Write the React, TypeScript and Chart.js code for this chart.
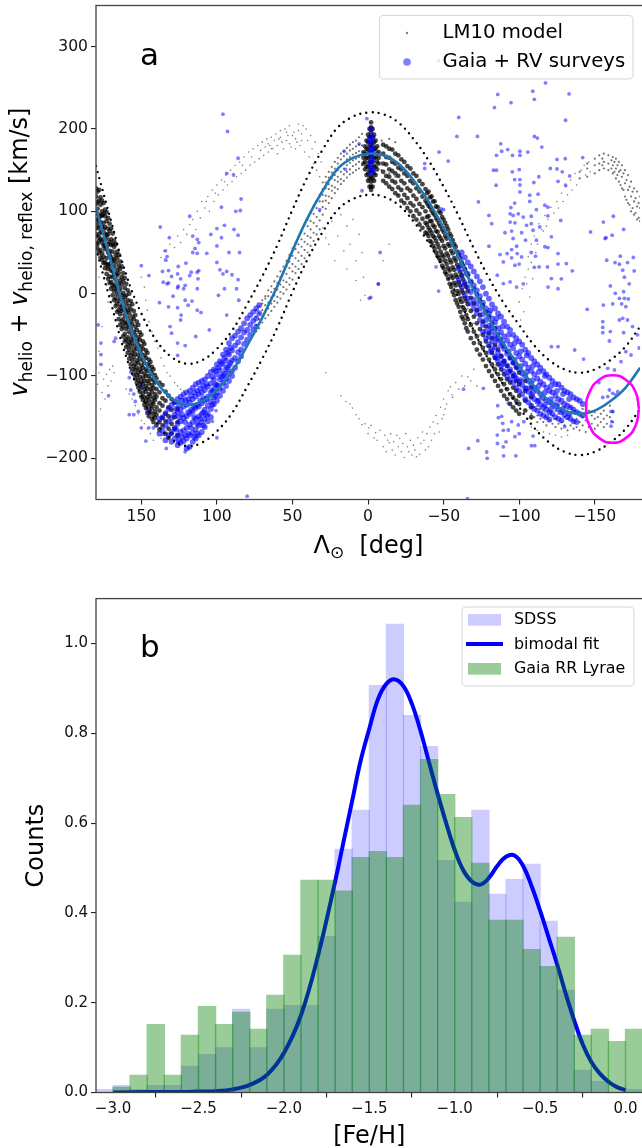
import React, { useEffect, useRef } from "react";
import { Chart, registerables } from "chart.js";

Chart.register(...registerables);

const FONT = "'DejaVu Sans'";

// ---- panel a: data (longitude, velocity) ----
const lonTicks = [150, 100, 50, 0, -50, -100, -150];
const velTicks = [-200, -100, 0, 100, 200, 300];

const fitLon = [180,170,160,150,140,130,120,110,100,90,80,70,60,50,40,30,20,10,0,-10,-20,-30,-40,-50,-60,-70,-80,-90,-100,-110,-120,-130,-140,-150,-160,-170,-180];
const fitVel = [105,38,-27,-74,-107,-127,-135,-131,-117,-95,-63,-29,9,52,92,125,152,165,170,168,158,138,112,80,44,5,-31,-62,-88,-113,-131,-142,-146,-142,-131,-115,-90];
const upperVel = [155,88,23,-24,-57,-77,-85,-81,-67,-45,-13,21,59,102,142,175,202,215,220,218,208,188,162,130,94,55,19,-12,-38,-63,-81,-92,-96,-92,-81,-65,-40];
const lowerVel = [55,-12,-77,-124,-157,-177,-185,-181,-167,-145,-113,-79,-41,2,42,75,102,115,120,118,108,88,62,30,-6,-45,-81,-112,-138,-163,-181,-192,-196,-192,-181,-165,-140];
const ringLon = [-179.3,-177,-170.5,-161.8,-153,-146.6,-144.3,-146.6,-153,-161.8,-170.5,-177,-179.3];
const ringVel = [-140,-119.5,-104.5,-99,-104.5,-119.5,-140,-160.5,-175.5,-181,-175.5,-160.5,-140];

// rows: longitude followed by velocities
const lm10Core = [
[180,128,118,109,97,90,79,70,61],[179,124,111,103,88,83,72,60,55],[178,126,113,96,92,80,69,64,50],[177,117,108,94,87,75,66,53,44],[176,113,100,95,81,74,62,49,41],[175,110,97,86,78,66,58,45,37],[174,102,94,81,73,59,54,38,31],[173,99,88,71,67,56,43,35,24],[172,92,79,72,60,50,36,30,18],[171,85,76,63,52,47,33,21,13],[170,79,66,59,44,37,28,14,6],[169,73,60,51,40,27,20,9,-2],[168,64,57,42,33,23,11,3,-8],[167,60,47,38,24,17,6,-6,-15],[166,51,43,29,22,8,-1,-12,-22],[165,47,34,25,12,3,-9,-20,-31],[164,39,30,16,6,-5,-16,-25,-38],[163,33,20,11,-2,-14,-21,-34,-43],[162,25,15,1,-8,-19,-31,-40,-52],[161,19,7,-4,-17,-26,-36,-49,-58],[160,12,-2,-12,-22,-35,-43,-56,-65],[159,4,-8,-20,-29,-40,-53,-62,-72],[158,0,-15,-24,-38,-47,-59,-68,-79],[157,-9,-19,-33,-42,-56,-64,-75,-86],[156,-13,-28,-37,-51,-60,-72,-81,-92],[155,-21,-31,-46,-55,-68,-77,-88,-98],[154,-26,-40,-50,-63,-73,-85,-93,-103],[153,-34,-44,-58,-67,-81,-90,-99,-108],[152,-38,-53,-62,-75,-84,-96,-105,-114],[151,-47,-56,-70,-79,-92,-101,-110,-119],[150,-50,-64,-73,-87,-95,-107,-114,-125],[149,-58,-67,-81,-90,-102,-110,-121,-129],[148,-61,-75,-84,-97,-106,-116,-126,-135],[147,-69,-78,-92,-100,-112,-119,-131,-139],[146,-72,-86,-94,-106,-115,-126,-134,-145],[145,-80,-88,-100,-109,-122,-129,-141,-149],[144,-83,-94,-104,-116,-124,-136,-144],[143,-89,-97,-111,-119,-132,-139,-152],[142,-92,-105,-114,-127,-134,-147,-156],[141,-99,-108,-122,-129,-143,-151],[140,-103,-116,-125,-138,-147,-160],[138,-108,-120,-133,-142,-156,-165],[136,-111,-127,-136,-151,-160],[134,-119,-130,-146,-155,-170],[132,-124,-138,-149,-164,-175],[130,-128,-141,-158,-170],[128,-132,-150,-164],[126,-140,-156,-172],
[-2,208,202,196,190,184,178,172,166,160,154,148,142,136,130,126],[-1,200,190,180,170,160,150,140,130],[-3,200,190,180,170,160,150,140,130],[0,193,184,175,165,155,146,137],[-4,193,184,175,165,155,146,137],[1,186,176,165,154,144],[-5,186,176,165,154,144],[2,179,170,160,151],[-6,179,170,160,151],[3,172,165,158],[-7,172,165,158],
[-10,181,170,158,148,137],[-12,179,166,157,143,134],[-14,176,165,151,142,130],[-16,175,160,149,137,127],[-18,170,158,146,135,122],[-20,168,153,143,129,119],[-22,163,151,137,126,113],[-24,160,146,134,120,110],[-26,155,143,128,116,104],[-28,152,137,125,110,100],[-30,146,134,119,107,94],[-32,143,128,115,101,90],[-34,137,124,109,97,84],[-36,133,118,105,91,80],[-38,127,113,100,86,74],[-39,122,110,93,84,73],[-40,124,107,94,80,70],[-41,117,105,88,77,64],[-42,118,101,88,74,62],[-43,112,98,83,70,58],[-44,112,96,81,68,55],[-45,106,92,76,64,50],[-46,105,89,75,60,46],[-47,100,85,70,56,43],[-48,98,82,67,51,40],[-49,93,78,64,47,34],[-50,90,75,58,45,31],[-51,86,70,55,40,26],[-52,82,67,49,36,23],[-53,78,60,46,31,18],[-54,73,58,41,28,12],[-55,70,52,38,22,8],[-56,65,49,32,19,2],[-57,60,43,29,13,-2],[-58,57,40,23,10,-8],[-59,51,35,20,3,-12],[-60,47,32,14,0,-16],[-61,43,26,10,-6,-22],[-62,38,22,4,-10,-28],[-63,34,17,1,-17,-31],[-64,30,12,-5,-20,-36],[-65,25,8,-9,-26,-42],[-66,22,3,-13,-31,-46],[-68,14,-5,-21,-38,-54],[-70,6,-12,-28,-46,-60],[-72,-1,-20,-36,-52,-68],[-74,-8,-26,-43,-60,-74],[-76,-14,-34,-50,-66,-80],[-78,-22,-40,-58,-72,-88],[-80,-28,-48,-64,-80,-94],[-82,-36,-54,-72,-86,-100],[-84,-42,-62,-78,-92,-106],[-86,-50,-68,-86,-98,-112],[-88,-56,-76,-92,-104,-118],[-90,-64,-82,-98,-110,-124],[-92,-70,-88,-104,-116,-128],[-94,-78,-94,-108,-122,-134],[-96,-84,-100,-114,-126,-138],[-98,-90,-106,-118,-130,-142],[-100,-96,-110,-124,-134,-146],[-104,-106,-118,-130,-142],[-108,-114,-126,-138,-150],
];
const lm10Mid = [
[74,-28,-38,-46,-20],[72,-24,-31,-42,-15],[70,-12,-20,-29,-35,-8],[68,-6,-14,-22,-30,-3],[66,-3,-11,-18,-26,4],[64,2,-5,-12,-21,9],[62,6,-2,-9,-16,15],[60,13,5,-4,-11,21],[58,20,11,2,-6,27],[56,26,16,8,0,33],[54,33,24,14,5,40],[52,39,31,19,11,47],[50,46,36,27,17,55],[48,54,43,33,25,62],[46,60,50,40,30,69],[44,66,57,46,36,76],[42,73,63,53,43,84],[40,82,70,60,50,90],[38,88,78,68,58,98],[36,97,86,74,64,106],[34,104,93,82,72,113],[32,112,100,89,78,120],
[30,96,105,112,120,127,135],[28,103,113,119,128,135,142],[26,110,118,127,133,141,148],[24,116,125,131,140,147,154],[22,122,129,138,144,152,160],[20,127,136,142,150,158,165],[18,133,139,148,155,163,170],[16,137,145,152,158,167,173],[14,141,148,156,163,170,177],[12,145,151,159,166,174,181],[10,147,155,162,169,176,184],[8,150,157,164,171,179,186],[6,152,160,166,173,181,190],[4,156,168,180,194],[-9,150,186],[-14,146,188],[-18,142,184],
[-108,-120,-134,-146,-152],[-110,-124,-138,-150],[-112,-128,-136,-148,-156],[-114,-126,-140,-152],[-116,-130,-142,-156],[-118,-128,-138,-150,-160],[-120,-132,-144,-154],[-122,-134,-148,-158],[-124,-130,-142,-152,-162],[-126,-136,-146,-158],[-128,-134,-144,-156,-164],[-130,-138,-150,-160],[-132,-140,-152,-166],[-134,-138,-148,-160],[-136,-142,-154,-164],[-138,-144,-152,-162],[-140,-146,-156,-166],[-142,-140,-150,-160],[-144,-146,-154,-168],[-146,-142,-156,-162],[-148,-148,-158],[-150,-144,-152,-164],[-152,-150,-160],[-154,-146,-156],[-156,-142,-152,-162],[-158,-148,-158],[-160,-136,-150],[-162,-144,-156],
[-140,140,148],[-145,142,152,158],[-150,146,156,164],[-153,150,158,168],[-156,152,160,170],[-159,150,158,168],[-162,146,156,166],[-164,140,152,164],[-166,136,148,160],[-168,128,142,156],[-170,118,134,150],[-172,110,126,144],[-174,100,118,136],[-176,96,112,128],[-178,90,106,124],[-180,88,104,118],[-155,156,164],[-161,152,162],[-165,144,156],[-169,126,146],[-173,108,130],[-177,98,116],[-163,148,160],[-167,132,150],[-171,114,138],[-175,104,124],[-179,92,110],
];
// flat pairs: longitude, velocity
const lm10Fine = [
137,44,135,52,133,40,131,60,128,56,126,70,124,62,122,78,120,72,118,84,116,90,114,78,113,100,111,92,110,112,108,104,106,118,105,100,103,126,102,112,100,132,99,120,97,138,96,126,94,144,93,132,91,150,90,136,88,156,87,142,85,160,84,146,82,166,81,150,79,172,78,156,76,176,75,160,73,180,72,164,70,184,69,168,67,188,66,172,64,190,63,176,61,194,60,180,58,198,57,184,55,200,54,186,52,204,51,178,49,196,48,188,46,206,45,180,44,194,42,172,41,200,40,186,39,166,38,192,37,176,36,158,35,184,34,150,33,170,32,142,31,160,
68,178,66,182,64,176,62,186,60,170,58,190,56,176,54,196,52,182,50,192,48,176,46,198,44,186,43,204,47,184,53,192,59,188,65,180,71,174,77,166,83,156,89,146,95,136,101,122,107,112,
-106,45,-108,60,-110,70,-111,50,-113,85,-115,78,-117,95,-119,90,-121,105,-123,98,-125,112,-126,104,-128,122,-129,112,-131,130,-132,120,-134,138,-135,126,-137,146,-138,132,-141,150,-143,156,-144,144,-146,160,-147,148,-100,-10,-102,6,-103,-22,-104,20,-105,12,-106,30,-107,-4,-108,38,-101,-32,-109,18,-112,60,-116,76,-118,82,
28,-96,18,-124,14.6,-131,10.4,-139,8,-147,4,-159,-0.6,-163,-5,-169,-14,-181,-32,-198,-38,-190,-47,-168,-50,-147,-55.5,-123,-54.5,-113,-66,-101,12,-134,6,-152,2,-158,0,-170,-2,-160,-4,-175,-6,-178,-8,-166,-10,-186,-11,-172,-12,-192,-13,-178,-15,-170,-16,-190,-17,-180,-18,-196,-19,-172,-20,-186,-21,-176,-22,-192,-23,-182,-24,-199,-25,-170,-26,-186,-27,-192,-28,-178,-29,-196,-30,-184,-31,-190,-33,-175,-34,-195,-35,-182,-36,-168,-37,-178,-39,-170,-40,-186,-41,-162,-42,-178,-43,-156,-44,-170,-45,-148,-46,-158,-48,-138,-49,-152,-50,-128,-51,-140,-52,-134,-53,-118,-56,-126,-58,-108,-60,-116,-62,-100,-64,-112,-68,-106,-70,-92,-72,-112,
180,-90,179,-110,178,-96,177,-140,176,-120,175,-104,174,-128,173,-98,172,-112,171,-92,170,-106,169,-88,168,-96,178,-70,176,-40,175,30,173,10,172,-10,180,30,178,20,
150,20,148,8,147,-8,146,-20,145,-34,143,-46,141,-58,139,-66,137,-78,135,-88,133,-96,131,-100,128,-108,126,-112,124,-116,122,-118,160,-116,158,-122,156,-128,154,-136,152,-146,150,-154,148,-158,146,-164,144,-170,142,-178,139,-168,137,-176,
30,80,26,60,24,88,22,40,20,70,18,96,16,52,14,30,14,82,12,60,10,90,8,40,8,16,6,72,5,-8,4,50,3,20,2,-2,28,68,-10,40,-14,60,
-20,120,-26,108,-30,96,-34,88,-38,76,-42,64,-46,50,-50,40,-54,28,-58,12,-62,-4,-66,-18,-70,-36,-74,-50,-78,-64,-80,-74,-84,-88,-88,-104,-92,-116,-96,-126,-100,-130,-104,-140,-108,-162,-112,-166,-116,-168,-120,-170,-124,-172,-128,-174,-132,-172,
];
const gaiaCore = [
[72,-14,-24],[74,-18,-30,-40],[76,-22,-33,-44],[78,-26,-38,-50],[80,-30,-44,-56],[82,-36,-47,-61],[84,-42,-53,-68,-76],[86,-46,-59,-71,-82],[88,-51,-63,-78,-90],[90,-54,-69,-81,-94,-100],[92,-60,-74,-87,-97,-106],[94,-68,-81,-92,-103,-112],[96,-74,-86,-99,-108,-118],[98,-82,-93,-104,-115,-124],[100,-86,-98,-111,-120,-130],[102,-92,-104,-116,-126,-134],[104,-95,-109,-120,-131,-140,-150],[106,-100,-113,-125,-136,-146,-155],[108,-104,-117,-130,-141,-152,-162],[110,-106,-120,-133,-146,-156,-168],[112,-108,-122,-137,-149,-160,-172],[114,-110,-125,-139,-152,-165,-176],[116,-114,-128,-143,-156,-169,-180],[118,-118,-132,-146,-159,-172,-186],[120,-120,-135,-149,-163,-176,-188],[122,-122,-137,-151,-166,-179],[124,-125,-141,-155,-168,-181],[126,-128,-144,-158,-172,-184],[128,-132,-147,-163,-176],[130,-135,-151,-168,-180],[132,-140,-155,-172],[134,-145,-160,-178],[136,-150,-166],[138,-152,-170],
[103,-101,-118,-135],[107,-110,-128,-148],[109,-112,-127,-144,-160],[111,-115,-130,-152],[113,-118,-135,-158,-170],[115,-120,-137,-150,-174],[117,-124,-141,-163],[119,-128,-144,-170],[121,-129,-156,-172],[123,-130,-147,-174],[125,-135,-150,-178],[127,-140,-165],[91,-66,-84],[93,-72,-90],[95,-78,-97],[97,-84,-101],[99,-90,-112],[101,-94,-110,-124],
[-60,46,30,16],[-62,50,35,22,8],[-64,44,29,13,-2],[-66,38,24,8,-6],[-68,33,15,2,-12],[-70,27,10,-7,-18],[-72,21,4,-12,-24],[-74,15,-3,-18,-32],[-76,8,-11,-25,-38,-46],[-78,0,-18,-32,-46,-54],[-80,-6,-24,-39,-52,-62],[-82,-13,-30,-46,-58,-68],[-84,-18,-35,-51,-65,-76],[-86,-24,-42,-57,-71,-82],[-88,-28,-47,-63,-76,-88],[-90,-34,-52,-67,-82,-94],[-92,-40,-57,-73,-87,-100],[-94,-44,-62,-78,-92,-104],[-96,-50,-66,-84,-97,-108],[-98,-54,-72,-88,-103,-114],[-100,-58,-76,-92,-107,-118],[-102,-62,-80,-97,-111,-122],[-104,-68,-85,-100,-115,-128],[-106,-72,-90,-106,-119,-132],[-108,-78,-94,-110,-124,-136],[-110,-82,-98,-114,-128,-140],[-112,-86,-103,-118,-131,-142],[-114,-90,-107,-122,-135,-146],[-116,-94,-110,-126,-138,-148],[-118,-98,-114,-129,-141,-150],[-120,-102,-118,-132,-144,-153],[-122,-106,-120,-134,-146],[-124,-110,-124,-137,-150],[-126,-110,-128,-141,-152],[-128,-114,-130,-144,-154],[-130,-118,-134,-147],[-132,-120,-136,-150],[-134,-122,-138,-152],[-136,-126,-141,-155],[-138,-128,-144,-156],[-140,-130,-146],[-142,-134,-148],
[-81,-20,-42,-70],[-85,-30,-55,-78],[-89,-40,-60,-85],[-93,-50,-70,-95],[-97,-60,-80,-100],[-101,-70,-88,-105],[-105,-75,-95,-115],[-109,-88,-105,-120],[-113,-95,-112,-130],[-117,-100,-120,-135],[-121,-112,-128,-140],[-125,-118,-135],[-129,-122,-140],[-133,-128,-146],
[-2,200,192,184,176,168,160,152,146],[-3,190,176,162,150],[-1,186,172,158],
];
const gaiaSparse = [
96,218,93,197,86,164.5,93.5,146,89,144,84,115,97,105,87.5,100,84.5,101,118,94,137.5,81,131.5,68,116,70,113,66,112,62,104,72,100,79,95,83,88.7,78,86,71,97,68,100,58,134,52,114.5,55,116,50,113,49,106.7,49,92,50,85,50,133,45,134,41,100,38,150,34,125.6,33,120.5,37,145,22,136,27,132,28,130,21,126,24,117,26,112,28,113,26,98,29,96,24,93.5,27,90,23,86,17,124,18,118,22,112.5,18,135.5,14,133,12,121,10,126,7,113,6,95,6,87,6,
132,13,125.6,9,122,6,99,-2,85.5,-8,129,-3,116.5,-9,121,-8,138,-11,132,-16,126,-17,119,-14,113,-20,110.5,-23,123.7,-26,124,-32,93.5,-26,131,-40,130,-48,114,-52,105,-44,126,-60,121,-63,126,-75,178.6,-38,176.7,-60,176.7,-74,176.7,-86,171.7,-124,167,-54,168,-58,147,-179,133.5,-188,
157,-95,158,-102,157,-117,155,-122,150.6,-113,154,-131,158,-147,155,-147,152,-143,146,-143,150,-163,145,-163,142,-163,139,-157,135.5,-171,126,-181,121,-192,119,-187,80,-246,100.6,-142,103,-155,100,-175,
0.8,212.7,15.8,173,5.9,182,15,151,4,125,32,102,-8,50,-6.8,12,-37.5,158,-37.5,152,-47,172,-53,161,-48.5,103,-50,102,-45,32.5,
-60,214,-58.8,191,-72.4,191,-83.6,226,-85.8,242,-94.6,232,-109,246,-110,236,-117.4,256,-133,242.6,-46.7,283,-130.7,210.6,-110,191,-112,189,-115,178,-87.8,182,-92.4,175,-85,168,-88.4,173,-95.6,168,-100.5,173,-100.5,168,-105.7,172,-125,163,-130.5,164,-142,165.3,-83,150,-85,150,-95.4,148,-100,150.7,-120.6,152,-125,151.5,-128.5,148,-113,142,-109.7,135,-97,138.6,-100.5,138.6,-125.7,136.5,-84.7,131.7,-100.5,132,-133.4,143,-130.7,131.7,-107,119.6,-100.5,123.6,-112.5,120.8,-73,111.4,-97,110,-94.5,104.6,-107,112,-117,107.4,-111.4,102,-119,105,-80,95,-94,97,-96,95,-99.4,97,-102.7,93,-108,94,-119,94.4,-127.5,89,-81.8,85,-94,87,-97.2,86,-104.9,83,-108,85,-113.6,81,-90.6,74,-96,67,-101.6,74,-109.2,77,-95,76,-121.3,69,-104.2,65,-80,57.6,-95,53.6,-98.3,57.6,-111.4,65,-117,57,-119,56,-92,48.7,-87.3,47.5,-98.7,48.7,-108,50,-110.8,45.5,-125.7,48.7,-101.6,44.6,-95,43.5,-125.7,36,-131.2,36.6,-118.7,32.5,-110,32,-113.2,32.5,-97.2,34.5,-100,36,-89.5,38.6,-135.1,27.7,-85.5,22.4,-121.3,18.3,-127.9,18,-119.1,8,-125.7,6,-89.5,12.3,-94,14.3,-98.3,8,-102.7,12,
-147.2,75,-155.7,87,-162.3,94,-156.8,67,-157.5,68,-161.5,71,-169.1,78,-157.9,40.6,-163.4,37.8,-166.9,45.5,-175.5,44,-166.3,35.7,-171.7,37.8,-168.5,28.5,-176.1,27.6,-169.6,20,-160.3,9.4,-172.8,12,
-6.8,11.7,-1.8,-4.4,-0.8,-5.6,-46.7,3.2,-163.6,0.4,-169.1,2.4,-166.3,-5.7,-169.6,-5.7,-172.2,-6.5,-161.9,-12.5,-167.8,-12.5,-170.6,-15.8,-155.7,-13.8,-145,-19,-168.5,-30,-166.3,-32,-171.7,-32,-155.3,-34,-155.3,-41,-155.3,-47.4,-160.3,-46,-169.1,-47.4,-159.7,-57.5,-175,-40,-178.3,-50,-179.4,-66,-170.6,-70.4,-174,-74.5,-136.7,-68.4,-142.6,-79.4,-125.7,-64.4,-121.3,-64.4,-167.4,-82.6,-158.6,-90.7,-163,-92.7,-152.7,-108,-159.7,-117,-165.2,-119,-158.6,-125,-155.3,-126,-161.9,-121,-164,-123,-160.8,-143,-162,-143,-161.2,-155.5,-160.8,-161,
-66.5,-188,-72.6,-178.5,-78.5,-192.3,-78.8,-200,-85.6,-182,-89.5,-186,-91.3,-180,-97.8,-197,-89.7,-197,-89.5,-166,-86.2,-150.6,-88.4,-149,-85.5,-171.7,-92.8,-165.6,-97.2,-173.7,-100,-170,-99.4,-159.5,-108.1,-184.6,-110.3,-184.6,-109.2,-173,-76.3,-115,-63.2,-116,-85.8,-136,-92.8,-133.2,-98.3,-133.2,-89.1,-157.5,-95,-155.5,-103.1,-155.5,-130.1,-161.5,-65.8,-249,
];

// ---- panel b ----
const feHTicks = [-3, -2.5, -2, -1.5, -1, -0.5, 0];
const countTicks = [0, 0.2, 0.4, 0.6, 0.8, 1];
const binCentres = [-3.05,-2.95,-2.85,-2.75,-2.65,-2.55,-2.45,-2.35,-2.25,-2.15,-2.05,-1.95,-1.85,-1.75,-1.65,-1.55,-1.45,-1.35,-1.25,-1.15,-1.05,-0.95,-0.85,-0.75,-0.65,-0.55,-0.45,-0.35,-0.25,-0.15,-0.05,0.05];
const sdssCounts = [0.007,0.016,0.007,0.016,0.016,0.059,0.085,0.1,0.186,0.1,0.186,0.194,0.194,0.348,0.542,0.629,0.907,1.043,0.84,0.771,0.517,0.424,0.629,0.442,0.475,0.509,0.382,0.228,0.05,0.025,0,0.007];
const gaiaCounts = [0,0.012,0.039,0.152,0.039,0.128,0.192,0.152,0.179,0.141,0.217,0.306,0.473,0.473,0.449,0.524,0.537,0.524,0.64,0.742,0.664,0.613,0.511,0.384,0.384,0.319,0.281,0.346,0.128,0.141,0.114,0.141];
const bimodalFeH = [-3,-2.8,-2.6,-2.5,-2.4,-2.3,-2.2,-2.1,-2,-1.9,-1.8,-1.7,-1.65,-1.6,-1.55,-1.5,-1.45,-1.4,-1.35,-1.3,-1.25,-1.2,-1.15,-1.1,-1.05,-1,-0.95,-0.9,-0.85,-0.8,-0.75,-0.7,-0.65,-0.6,-0.55,-0.5,-0.45,-0.4,-0.35,-0.3,-0.25,-0.2,-0.15,-0.1,-0.05,0];
const bimodalFit = [0,0.001,0.001,0.002,0.003,0.007,0.017,0.039,0.088,0.172,0.305,0.47,0.56,0.65,0.74,0.81,0.875,0.91,0.92,0.905,0.865,0.805,0.735,0.665,0.6,0.54,0.495,0.47,0.463,0.478,0.505,0.525,0.528,0.505,0.46,0.405,0.345,0.285,0.22,0.16,0.107,0.068,0.042,0.024,0.012,0.005];

const fromRows = (rows: number[][]) => rows.flatMap(([x, ...vs]) => vs.map((y) => ({ x, y })));
const fromFlat = (flat: number[]) => {
  const out: { x: number; y: number }[] = [];
  for (let i = 0; i + 1 < flat.length; i += 2) out.push({ x: flat[i], y: flat[i + 1] });
  return out;
};
const zip = (xs: number[], ys: number[]) => xs.map((x, i) => ({ x, y: ys[i] }));

const minusLabel = (v: number, digits: number) => {
  const s = Math.abs(v).toFixed(digits);
  return (v < 0 ? "\u2212" : "") + s;
};

const fixWidth = (w: number) => (s: any) => {
  s.width = w;
  s.paddingTop = 0; s.paddingBottom = 0; s.paddingLeft = 0; s.paddingRight = 0;
};
const fixHeight = (h: number) => (s: any) => {
  s.height = h;
  s.paddingTop = 0; s.paddingBottom = 0; s.paddingLeft = 0; s.paddingRight = 0;
};

const TICK_COLOR = "#222";
const axisCommon = (tickSize: number) => ({
  grid: { display: true, drawOnChartArea: false, drawTicks: true, tickLength: 5, color: TICK_COLOR, lineWidth: 1.1 },
  border: { display: false },
  ticks: { color: "#111", font: { family: FONT, size: tickSize }, padding: 3, maxRotation: 0, autoSkip: false },
});

const framePlugin = {
  id: "frame",
  afterDatasetsDraw(chart: any) {
    const { ctx, chartArea: a } = chart;
    ctx.save();
    ctx.strokeStyle = "#444";
    ctx.lineWidth = 1.3;
    ctx.strokeRect(a.left, a.top, a.right - a.left + 5, a.bottom - a.top);
    ctx.restore();
  },
};

const legendBox = (ctx: any, x: number, y: number, w: number, h: number) => {
  ctx.beginPath();
  ctx.roundRect(x, y, w, h, 4);
  ctx.fillStyle = "rgba(255,255,255,0.8)";
  ctx.fill();
  ctx.strokeStyle = "#d8d8d8";
  ctx.lineWidth = 1.1;
  ctx.stroke();
};

const segments = (ctx: any, parts: { t: string; size: number; italic?: boolean; drop?: number }[]) => {
  const font = (p: any) => `${p.italic ? "italic " : ""}${p.size}px ${FONT}`;
  let total = 0;
  for (const p of parts) {
    ctx.font = font(p);
    total += ctx.measureText(p.t).width;
  }
  let x = -total / 2;
  for (const p of parts) {
    ctx.font = font(p);
    ctx.fillText(p.t, x, p.drop || 0);
    x += ctx.measureText(p.t).width;
  }
};

const panelAText = {
  id: "panelAText",
  afterDraw(chart: any) {
    const { ctx } = chart;
    ctx.save();
    ctx.fillStyle = "#000";
    ctx.textBaseline = "alphabetic";
    ctx.textAlign = "left";
    ctx.font = `31px ${FONT}`;
    ctx.fillText("a", 140, 65);
    ctx.save();
    ctx.translate(368.5, 553);
    segments(ctx, [
      { t: "\u039b", size: 24 },
      { t: "\u2299", size: 17, drop: 5 },
      { t: "  [deg]", size: 24 },
    ]);
    ctx.restore();
    ctx.save();
    ctx.translate(27, 252);
    ctx.rotate(-Math.PI / 2);
    segments(ctx, [
      { t: "v", size: 24, italic: true },
      { t: "helio", size: 17, drop: 5 },
      { t: " + ", size: 24 },
      { t: "v", size: 24, italic: true },
      { t: "helio, reflex", size: 17, drop: 5 },
      { t: " [km/s]", size: 24 },
    ]);
    ctx.restore();
    legendBox(ctx, 379.5, 15.5, 253.5, 63.5);
    ctx.font = `19.7px ${FONT}`;
    ctx.fillStyle = "#000";
    ctx.textBaseline = "middle";
    ctx.fillText("LM10 model", 442.5, 32.5);
    ctx.fillText("Gaia + RV surveys", 442.5, 61.5);
    ctx.fillStyle = "rgba(0,0,0,0.5)";
    ctx.beginPath();
    ctx.arc(407, 33, 1.2, 0, 7);
    ctx.fill();
    ctx.fillStyle = "rgba(0,0,255,0.5)";
    ctx.beginPath();
    ctx.arc(407, 62, 3.8, 0, 7);
    ctx.fill();
    ctx.restore();
  },
};

const panelBText = {
  id: "panelBText",
  afterDraw(chart: any) {
    const { ctx } = chart;
    const off = 575;
    ctx.save();
    ctx.fillStyle = "#000";
    ctx.textBaseline = "alphabetic";
    ctx.font = `31px ${FONT}`;
    ctx.fillText("b", 140, 657 - off);
    legendBox(ctx, 462, 607 - off, 172, 79);
    ctx.fillStyle = "rgba(0,0,255,0.2)";
    ctx.fillRect(468, 614 - off, 33, 11.7);
    ctx.strokeStyle = "#0000ff";
    ctx.lineWidth = 4;
    ctx.beginPath();
    ctx.moveTo(466, 644 - off);
    ctx.lineTo(503, 644 - off);
    ctx.stroke();
    ctx.fillStyle = "rgba(0,128,0,0.4)";
    ctx.fillRect(468, 663 - off, 33, 11.7);
    ctx.fillStyle = "#000";
    ctx.font = `15.9px ${FONT}`;
    ctx.textBaseline = "middle";
    ctx.fillText("SDSS", 514, 620 - off);
    ctx.fillText("bimodal fit", 514, 644.5 - off);
    ctx.fillText("Gaia RR Lyrae", 514, 669 - off);
    ctx.restore();
  },
};

export default function App() {
  const refA = useRef<HTMLCanvasElement>(null);
  const refB = useRef<HTMLCanvasElement>(null);

  useEffect(() => {
    const line = (label: string, xs: number[], ys: number[], extra: any) => ({
      label,
      data: zip(xs, ys),
      showLine: true,
      pointRadius: 0,
      tension: 0.4,
      fill: false,
      ...extra,
    });
    const dotted = { borderColor: "#000", borderWidth: 2.4, borderDash: [0, 6.2], borderCapStyle: "round", order: 2 };
    const dots = (label: string, data: any[], color: string, r: number, order: number) => ({
      label,
      data,
      pointRadius: r,
      pointBorderWidth: 0,
      pointHoverRadius: r,
      backgroundColor: color,
      borderColor: color,
      order,
    });
    const chartA = new Chart(refA.current!, {
      type: "scatter",
      data: {
        datasets: [
          dots("LM10 model", fromFlat(lm10Fine), "rgba(0,0,0,0.5)", 0.8, 10),
          dots("LM10 model (mid)", fromRows(lm10Mid), "rgba(0,0,0,0.55)", 1.1, 9),
          dots("LM10 model (dense)", fromRows(lm10Core), "rgba(0,0,0,0.72)", 2.4, 8),
          dots("Gaia + RV surveys", fromFlat(gaiaSparse), "rgba(0,0,255,0.5)", 1.9, 7),
          dots("Gaia + RV surveys (dense)", fromRows(gaiaCore), "rgba(0,0,255,0.6)", 2.9, 6),
          line("upper envelope", fitLon, upperVel, dotted),
          line("lower envelope", fitLon, lowerVel, dotted),
          line("mean", fitLon, fitVel, { borderColor: "#1f77b4", borderWidth: 2.6, order: 1 }),
          line("highlight", ringLon, ringVel, { borderColor: "#ff00ff", borderWidth: 2.6, tension: 0.5, order: 0 }),
        ] as any,
      },
      options: {
        animation: false,
        responsive: false,
        events: [],
        layout: { padding: { top: 5.5, bottom: 0, left: 0, right: 0.4 } },
        plugins: { legend: { display: false }, tooltip: { enabled: false } },
        scales: {
          x: {
            type: "linear",
            reverse: true,
            min: -180,
            max: 180,
            ...axisCommon(15.6),
            afterBuildTicks: (s: any) => { s.ticks = lonTicks.map((value) => ({ value })); },
            afterFit: fixHeight(75.5),
            ticks: { ...axisCommon(15.6).ticks, callback: (v: any) => minusLabel(Number(v), 0) },
          },
          y: {
            type: "linear",
            min: -250,
            max: 350,
            ...axisCommon(15.6),
            afterBuildTicks: (s: any) => { s.ticks = velTicks.map((value) => ({ value })); },
            afterFit: fixWidth(96),
            ticks: { ...axisCommon(15.6).ticks, callback: (v: any) => minusLabel(Number(v), 0) },
          },
        },
      } as any,
      plugins: [framePlugin, panelAText],
    });

    const chartB = new Chart(refB.current!, {
      type: "bar",
      data: {
        datasets: [
          {
            type: "bar",
            label: "SDSS",
            data: zip(binCentres, sdssCounts),
            backgroundColor: "rgba(0,0,255,0.2)",
            borderWidth: 0,
            barThickness: 17.6,
            grouped: false,
            order: 3,
          },
          {
            type: "line",
            label: "bimodal fit",
            data: zip(bimodalFeH, bimodalFit),
            borderColor: "#0000ff",
            borderWidth: 4,
            pointRadius: 0,
            tension: 0.4,
            order: 2,
          },
          {
            type: "bar",
            label: "Gaia RR Lyrae",
            data: zip(binCentres, gaiaCounts),
            backgroundColor: "rgba(0,128,0,0.4)",
            borderWidth: 0,
            barThickness: 17.8,
            grouped: false,
            order: 1,
          },
        ] as any,
      },
      options: {
        animation: false,
        responsive: false,
        events: [],
        layout: { padding: { top: 23.6, bottom: 0, left: 0, right: 0.4 } },
        plugins: { legend: { display: false }, tooltip: { enabled: false } },
        scales: {
          x: {
            type: "linear",
            offset: false,
            min: -3.1,
            max: 0.1,
            ...axisCommon(15),
            title: { display: true, text: "[Fe/H]", color: "#000", font: { family: FONT, size: 24 }, padding: { top: -3, bottom: -3 } },
            afterBuildTicks: (s: any) => { s.ticks = feHTicks.map((value) => ({ value })); },
            afterFit: fixHeight(55.5),
            ticks: { ...axisCommon(15).ticks, callback: (v: any) => minusLabel(Number(v), 1) },
          },
          y: {
            type: "linear",
            min: 0,
            max: 1.1,
            ...axisCommon(15),
            title: { display: true, text: "Counts", color: "#000", font: { family: FONT, size: 24 }, padding: { top: 22, bottom: 22 } },
            afterBuildTicks: (s: any) => { s.ticks = countTicks.map((value) => ({ value })); },
            afterFit: fixWidth(96),
            ticks: { ...axisCommon(15).ticks, callback: (v: any) => Number(v).toFixed(1) },
          },
        },
      } as any,
      plugins: [framePlugin, panelBText],
    });

    return () => {
      chartA.destroy();
      chartB.destroy();
    };
  }, []);

  return (
    <div style={{ position: "absolute", left: 0, top: 0, width: 642, height: 1148, overflow: "hidden", background: "#fff" }}>
      <canvas ref={refA} width={643} height={575} style={{ position: "absolute", left: 0, top: 0 }} />
      <canvas ref={refB} width={643} height={573} style={{ position: "absolute", left: 0, top: 575 }} />
    </div>
  );
}
